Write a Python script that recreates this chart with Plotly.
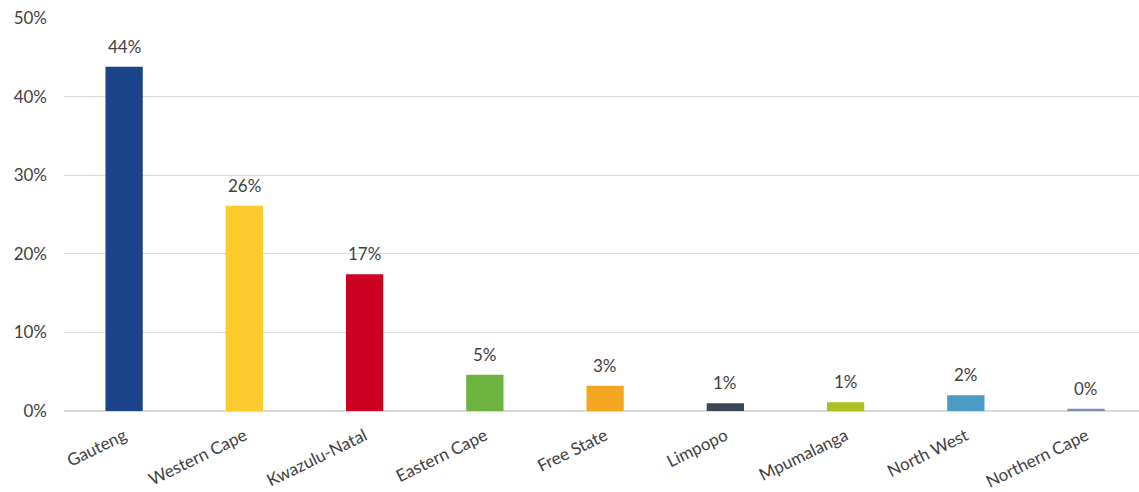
import plotly.graph_objects as go

# Share of total by province
provinces = ["Gauteng", "Western Cape", "Kwazulu-Natal", "Eastern Cape", "Free State",
             "Limpopo", "Mpumalanga", "North West", "Northern Cape"]
shares = [0.438, 0.261, 0.174, 0.046, 0.032, 0.010, 0.011, 0.020, 0.003]
colors = ["#1B4389", "#FECB2F", "#CC0022", "#6DB33F", "#F4A620",
          "#3A4654", "#AEBF23", "#4B9BC5", "#7F8FB0"]
y_ticks = [0, 0.1, 0.2, 0.3, 0.4, 0.5]

FONT = "Lato, 'Open Sans', sans-serif"
TEXT = "#404040"

fig = go.Figure(
    go.Bar(
        x=provinces,
        y=shares,
        marker=dict(color=colors, line=dict(width=0)),
        width=0.31,
        hoverinfo="skip",
    )
)

# Value labels above each bar
for p, v in zip(provinces, shares):
    fig.add_annotation(
        x=p, y=v, text=f"{v:.0%}", showarrow=False,
        yanchor="bottom", yshift=8,
        font=dict(family=FONT, size=17, color=TEXT),
    )

fig.update_layout(
    width=1139, height=492,
    margin=dict(l=64, r=0, t=17.5, b=81),
    plot_bgcolor="white", paper_bgcolor="white",
    showlegend=False,
    font=dict(family=FONT, size=17, color=TEXT),
    xaxis=dict(
        range=[-0.5, 8.44],
        tickangle=-26,
        showgrid=False,
        showline=False,
        zeroline=False,
        ticks="",
        ticklabelstandoff=11,
        automargin=False,
        tickfont=dict(family=FONT, size=17, color=TEXT),
    ),
    yaxis=dict(
        range=[0, 0.5],
        tickvals=y_ticks,
        tickformat=".0%",
        showgrid=True,
        gridcolor="#D9D9D9",
        gridwidth=1,
        zeroline=True,
        zerolinecolor="#D9D9D9",
        zerolinewidth=1.5,
        showline=False,
        ticks="",
        ticklabelstandoff=16,
        automargin=False,
        tickfont=dict(family=FONT, size=17, color=TEXT),
    ),
)

fig.write_html("out.html")
